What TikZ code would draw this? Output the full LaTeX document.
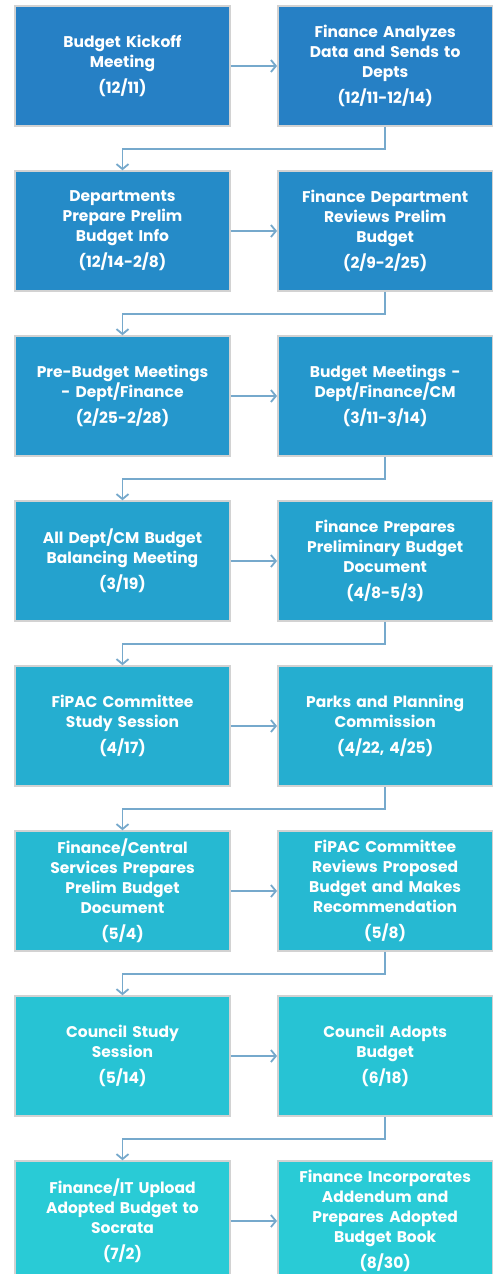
\documentclass[tikz,border=0pt]{standalone}
\usepackage{fontspec}
\setmainfont{Poppins}
\usetikzlibrary{positioning,arrows.meta}

\definecolor{rowa}{RGB}{38,128,197}
\definecolor{rowb}{RGB}{37,139,200}
\definecolor{rowc}{RGB}{37,151,204}
\definecolor{rowd}{RGB}{36,162,206}
\definecolor{rowe}{RGB}{37,174,208}
\definecolor{rowf}{RGB}{38,185,210}
\definecolor{rowg}{RGB}{39,195,212}
\definecolor{rowh}{RGB}{41,203,214}
\definecolor{flowblue}{RGB}{118,169,204}

\begin{document}
\begin{tikzpicture}[x=1pt,y=1pt,
	stage/.style={rectangle,draw=gray!35,line width=1.5pt,minimum width=213pt,minimum height=120pt,
		text width=208pt,align=center,text=white,font=\bfseries\fontsize{15.5}{20}\selectfont},
	flow/.style={draw=flowblue,line width=1.8pt,-{Straight Barb[length=5pt,width=12pt]}}]
\useasboundingbox (0,0) rectangle (494,-1274);

% left column steps first, the right column hangs off them
\node [stage,fill=rowa] (kick) at (122.5,-66) {Budget Kickoff\\Meeting\\[6pt](12/11)};
\node [stage,fill=rowa,right=46.5pt of kick] (send) {Finance Analyzes\\Data and Sends to\\Depts\\[6pt](12/11-12/14)};
\node [stage,fill=rowb,below=43.5pt of kick] (prep) {Departments\\Prepare Prelim\\Budget Info\\[6pt](12/14-2/8)};
\node [stage,fill=rowb,right=46.5pt of prep] (rev) {Finance Department\\Reviews Prelim\\Budget\\[6pt](2/9-2/25)};
\node [stage,fill=rowc,below=43.5pt of prep] (pre) {Pre-Budget Meetings\\- Dept/Finance\\[6pt](2/25-2/28)};
\node [stage,fill=rowc,right=46.5pt of pre] (meet) {Budget Meetings -\\Dept/Finance/CM\\[6pt](3/11-3/14)};
\node [stage,fill=rowd,below=43.5pt of pre] (bal) {All Dept/CM Budget\\Balancing Meeting\\[6pt](3/19)};
\node [stage,fill=rowd,right=46.5pt of bal] (doc) {Finance Prepares\\Preliminary Budget\\Document\\[6pt](4/8-5/3)};
\node [stage,fill=rowe,below=43.5pt of bal] (fip) {FiPAC Committee\\Study Session\\[6pt](4/17)};
\node [stage,fill=rowe,right=46.5pt of fip] (park) {Parks and Planning\\Commission\\[6pt](4/22, 4/25)};
\node [stage,fill=rowf,below=43.5pt of fip] (cent) {Finance/Central\\Services Prepares\\Prelim Budget\\Document\\[6pt](5/4)};
\node [stage,fill=rowf,right=46.5pt of cent] (reco) {FiPAC Committee\\Reviews Proposed\\Budget and Makes\\Recommendation\\[6pt](5/8)};
\node [stage,fill=rowg,below=43.5pt of cent] (stud) {Council Study\\Session\\[6pt](5/14)};
\node [stage,fill=rowg,right=46.5pt of stud] (adop) {Council Adopts\\Budget\\[6pt](6/18)};
\node [stage,fill=rowh,below=43.5pt of stud] (upl) {Finance/IT Upload\\Adopted Budget to\\Socrata\\[6pt](7/2)};
\node [stage,fill=rowh,right=46.5pt of upl] (book) {Finance Incorporates\\Addendum and\\Prepares Adopted\\Budget Book\\[6pt](8/30)};

% across each row
\path (kick) edge[flow] (send)
(prep) edge[flow] (rev)
(pre) edge[flow] (meet)
(bal) edge[flow] (doc)
(fip) edge[flow] (park)
(cent) edge[flow] (reco)
(stud) edge[flow] (adop)
(upl) edge[flow] (book);

% back to the left column
\draw[flow] (send.south) -- ++(0,-22.5) -| (prep.north);
\draw[flow] (rev.south) -- ++(0,-22.5) -| (pre.north);
\draw[flow] (meet.south) -- ++(0,-22.5) -| (bal.north);
\draw[flow] (doc.south) -- ++(0,-22.5) -| (fip.north);
\draw[flow] (park.south) -- ++(0,-22.5) -| (cent.north);
\draw[flow] (reco.south) -- ++(0,-22.5) -| (stud.north);
\draw[flow] (adop.south) -- ++(0,-22.5) -| (upl.north);
\end{tikzpicture}
\end{document}
